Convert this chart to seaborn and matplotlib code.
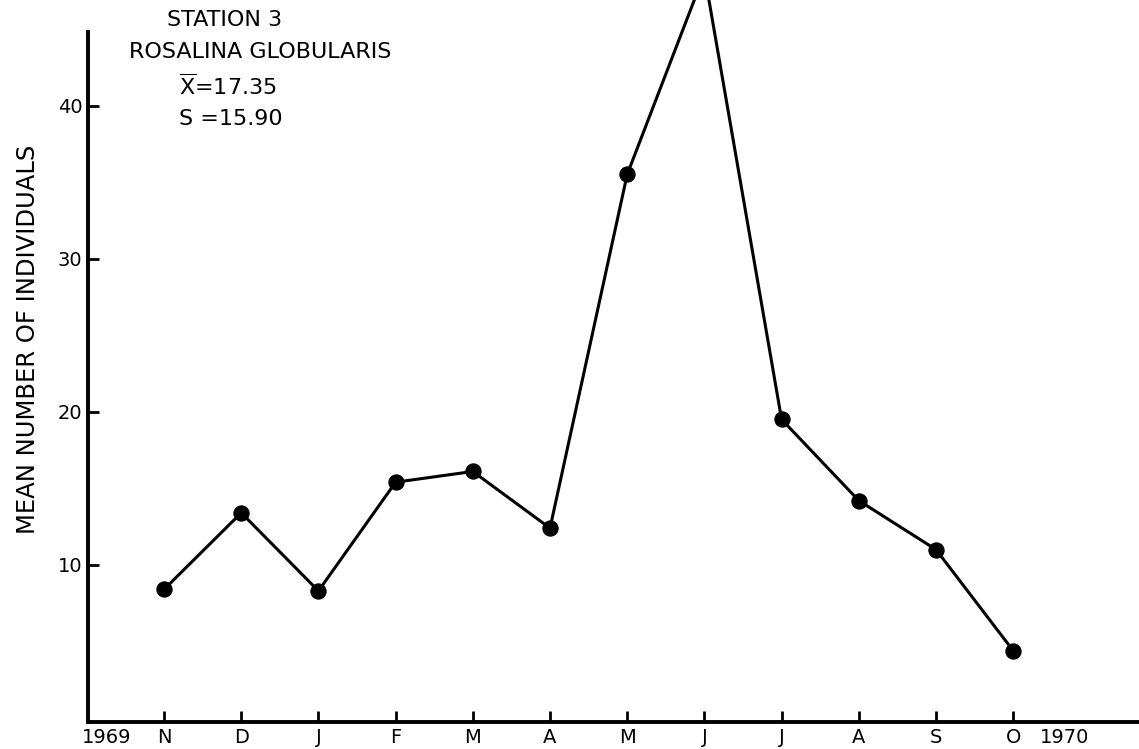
import matplotlib
matplotlib.use('Agg')
import matplotlib.pyplot as plt
import pandas as pd
import seaborn as sns

# Data
months = ['N', 'D', 'J', 'F', 'M', 'A', 'M', 'J', 'J', 'A', 'S', 'O']
mean_individuals = [8.4, 13.4, 8.3, 15.4, 16.1, 12.4, 35.5, 48.6, 19.5, 14.2, 11.0, 4.4]
y_ticks = [10, 20, 30, 40]
year_labels = ['1969', '1970']
year_pos = [-0.74, 11.67]
station = 'STATION 3'
species = 'ROSALINA GLOBULARIS'
mean_text = r'$\overline{\mathrm{X}}$=17.35'
sd_text = 'S =15.90'

df = pd.DataFrame({'pos': range(len(months)), 'month': months, 'value': mean_individuals})

sns.set_style('white')
plt.rcParams['font.family'] = ['DejaVu Sans']
plt.rcParams['mathtext.fontset'] = 'dejavusans'
plt.rcParams['text.color'] = 'black'
plt.rcParams['axes.labelcolor'] = 'black'

fig = plt.figure(figsize=(11.39, 7.49), dpi=100)
ax = fig.add_axes([88 / 1139, 27 / 749, 1051 / 1139, 690 / 749])

sns.lineplot(data=df, x='pos', y='value', ax=ax, color='black', linewidth=2.2,
             marker='o', markersize=11, markeredgecolor='black', markerfacecolor='black')
for line in ax.lines:
    line.set_clip_on(False)

ax.set_xlim(-0.985, 12.63)
ax.set_ylim(-0.26, 44.8)

ax.set_xticks(df['pos'])
ax.set_xticklabels(months)
# year labels sit on the time axis without a tick mark
ax.set_xticks(year_pos, minor=True)
ax.set_xticklabels(year_labels, minor=True)
ax.set_yticks(y_ticks)
ax.set_yticklabels([str(t) for t in y_ticks])

for side in ['top', 'right']:
    ax.spines[side].set_visible(False)
for side in ['left', 'bottom']:
    ax.spines[side].set_linewidth(2.8)
    ax.spines[side].set_color('black')

ax.tick_params(axis='both', which='major', direction='in', length=8, width=2,
               color='black', labelsize=14, labelcolor='black', bottom=True, left=True)
ax.tick_params(axis='x', which='minor', direction='in', length=0, labelsize=14,
               labelcolor='black', bottom=True)
ax.tick_params(axis='x', which='both', pad=4)
ax.tick_params(axis='y', pad=4)

ax.set_xlabel('')
ax.set_ylabel('MEAN NUMBER OF INDIVIDUALS', fontsize=17.5)
ax.yaxis.set_label_coords(-0.046, 0.555)

# header block
fig.text(225 / 1139, 1 - 20 / 749, station, ha='center', va='center', fontsize=16)
fig.text(260 / 1139, 1 - 52 / 749, species, ha='center', va='center', fontsize=16)
fig.text(179 / 1139, 1 - 86 / 749, mean_text, ha='left', va='center', fontsize=16)
fig.text(179 / 1139, 1 - 119 / 749, sd_text, ha='left', va='center', fontsize=16)

fig.savefig('out.png', dpi=100)
